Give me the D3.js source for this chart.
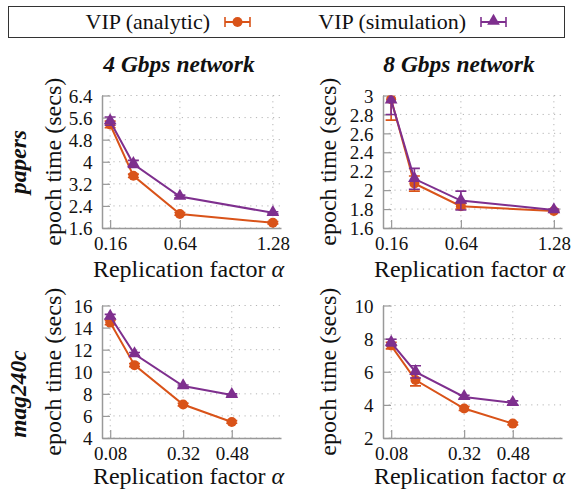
<!DOCTYPE html>
<html lang="en">
<head>
<meta charset="UTF-8">
<title>VIP epoch time</title>
<script src="https://d3js.org/d3.v7.min.js"></script>
<style>
  body { margin: 0; background: #fff; }
  svg text { font-family: "Liberation Serif", "Times New Roman", serif; fill: #111; }
</style>
</head>
<body>
<div id="chart"></div>
<script>
// Replication factors (x) for each dataset
var xPapers = [0.16, 0.32, 0.64, 1.28];
var xMag = [0.08, 0.16, 0.32, 0.48];

// papers, 4 Gbps
var papers4Analytic = [5.35, 3.49, 2.11, 1.79];
var papers4AnalyticErr = [0.12, 0.06, 0.05, 0.04];
var papers4Sim = [5.47, 3.92, 2.74, 2.15];
var papers4SimErr = [0.15, 0.13, 0.05, 0.04];

// papers, 8 Gbps
var papers8Analytic = [2.96, 2.07, 1.83, 1.78];
var papers8AnalyticErr = [0.22, 0.08, 0.03, 0.01];
var papers8Sim = [2.95, 2.12, 1.89, 1.79];
var papers8SimErr = [0.15, 0.11, 0.1, 0.01];

// mag240c, 4 Gbps
var mag4Analytic = [14.45, 10.6, 7.03, 5.45];
var mag4AnalyticErr = [0.2, 0.15, 0.12, 0.12];
var mag4Sim = [15.0, 11.6, 8.7, 7.9];
var mag4SimErr = [0.2, 0.15, 0.1, 0.1];

// mag240c, 8 Gbps
var mag8Analytic = [7.58, 5.5, 3.78, 2.87];
var mag8AnalyticErr = [0.2, 0.35, 0.12, 0.08];
var mag8Sim = [7.76, 5.99, 4.48, 4.12];
var mag8SimErr = [0.2, 0.37, 0.1, 0.12];

// tick values
var yTicksPapers4 = [1.6, 2.4, 3.2, 4, 4.8, 5.6, 6.4];
var yTicksPapers8 = [1.6, 1.8, 2, 2.2, 2.4, 2.6, 2.8, 3];
var yTicksMag4 = [4, 6, 8, 10, 12, 14, 16];
var yTicksMag8 = [2, 4, 6, 8, 10];
var xTicksPapers = [0.16, 0.64, 1.28];
var xTicksMag = [0.08, 0.32, 0.48];

var seriesNames = ["VIP (analytic)", "VIP (simulation)"];
var colTitles = ["4 Gbps network", "8 Gbps network"];
var rowTitles = ["papers", "mag240c"];

var orange = "#d95319", purple = "#7e2f8e";

var width = 571, height = 489;
var svg = d3.select("#chart").append("svg")
    .attr("width", width).attr("height", height);

// layout of the 2x2 grid
var colX = [[102, 281], [383, 562]];
var rowY = [[95.5, 228], [305.5, 438]];
var xDomains = [[0.104, 1.336], [0.053, 0.642]];

var panels = [
  { r: 0, c: 0, x: xPapers, xTicks: xTicksPapers, yTicks: yTicksPapers4,
    a: papers4Analytic, ae: papers4AnalyticErr, s: papers4Sim, se: papers4SimErr },
  { r: 0, c: 1, x: xPapers, xTicks: xTicksPapers, yTicks: yTicksPapers8,
    a: papers8Analytic, ae: papers8AnalyticErr, s: papers8Sim, se: papers8SimErr },
  { r: 1, c: 0, x: xMag, xTicks: xTicksMag, yTicks: yTicksMag4,
    a: mag4Analytic, ae: mag4AnalyticErr, s: mag4Sim, se: mag4SimErr },
  { r: 1, c: 1, x: xMag, xTicks: xTicksMag, yTicks: yTicksMag8,
    a: mag8Analytic, ae: mag8AnalyticErr, s: mag8Sim, se: mag8SimErr }
];

var fmt = d3.format("~g");
var tri = d3.symbol().type(d3.symbolTriangle).size(70);

panels.forEach(function (p, i) {
  var xr = colX[p.c], yr = rowY[p.r];
  var yDom = d3.extent(p.yTicks);
  var x = d3.scaleLinear().domain(xDomains[p.r]).range(xr);
  var y = d3.scaleLinear().domain(yDom).range([yr[1], yr[0]]);
  var g = svg.append("g");

  svg.append("clipPath").attr("id", "clip" + i)
    .append("rect").attr("x", xr[0]).attr("y", yr[0])
    .attr("width", xr[1] - xr[0]).attr("height", yr[1] - yr[0]);

  // dotted grid
  g.selectAll(".gy").data(p.yTicks).enter().append("line")
    .attr("x1", xr[0]).attr("x2", xr[1])
    .attr("y1", d => y(d)).attr("y2", d => y(d))
    .attr("stroke", "#b5b5b5").attr("stroke-width", 1)
    .attr("stroke-dasharray", "1.2,4.5");
  g.selectAll(".gx").data(p.xTicks).enter().append("line")
    .attr("x1", d => x(d)).attr("x2", d => x(d))
    .attr("y1", yr[0]).attr("y2", yr[1])
    .attr("stroke", "#b5b5b5").attr("stroke-width", 1)
    .attr("stroke-dasharray", "1.2,4.5");

  // axes with inward ticks
  var yAxis = d3.axisLeft(y).tickValues(p.yTicks).tickFormat(fmt)
    .tickSizeInner(-8).tickSizeOuter(0).tickPadding(9.5);
  var xAxis = d3.axisBottom(x).tickValues(p.xTicks).tickFormat(fmt)
    .tickSizeInner(-8).tickSizeOuter(0).tickPadding(8.5);

  var ya = g.append("g").attr("transform", "translate(" + xr[0] + ",0)").call(yAxis);
  var xa = g.append("g").attr("transform", "translate(0," + yr[1] + ")").call(xAxis);
  [ya, xa].forEach(function (ax) {
    ax.select(".domain").attr("stroke", "#999").attr("stroke-width", 1.5);
    ax.selectAll(".tick line").attr("stroke", "#999").attr("stroke-width", 1.2);
    ax.selectAll(".tick text").style("font-size", "19px")
      .style("font-family", "Liberation Serif").attr("fill", "#111");
  });
  ya.selectAll(".tick text").attr("dy", "0.35em");

  var plot = g.append("g").attr("clip-path", "url(#clip" + i + ")");

  function drawSeries(vals, errs, color, marker) {
    var pts = p.x.map((xv, k) => ({ x: xv, y: vals[k], e: errs[k] }));
    plot.append("path").datum(pts)
      .attr("fill", "none").attr("stroke", color).attr("stroke-width", 2)
      .attr("d", d3.line().x(d => x(d.x)).y(d => y(d.y)));
    var eb = plot.selectAll(null).data(pts).enter().append("g")
      .attr("stroke", color).attr("stroke-width", 1.6);
    eb.append("line").attr("x1", d => x(d.x)).attr("x2", d => x(d.x))
      .attr("y1", d => y(d.y - d.e)).attr("y2", d => y(d.y + d.e));
    eb.append("line").attr("x1", d => x(d.x) - 5.5).attr("x2", d => x(d.x) + 5.5)
      .attr("y1", d => y(d.y - d.e)).attr("y2", d => y(d.y - d.e));
    eb.append("line").attr("x1", d => x(d.x) - 5.5).attr("x2", d => x(d.x) + 5.5)
      .attr("y1", d => y(d.y + d.e)).attr("y2", d => y(d.y + d.e));
    if (marker === "circle") {
      plot.selectAll(null).data(pts).enter().append("circle")
        .attr("cx", d => x(d.x)).attr("cy", d => y(d.y)).attr("r", 5)
        .attr("fill", color);
    } else {
      plot.selectAll(null).data(pts).enter().append("path")
        .attr("d", tri)
        .attr("transform", d => "translate(" + x(d.x) + "," + (y(d.y) - 0.5) + ")")
        .attr("fill", color);
    }
  }
  drawSeries(p.a, p.ae, orange, "circle");
  drawSeries(p.s, p.se, purple, "triangle");

  // y label
  var ylx = p.c === 0 ? 53 : 328;
  svg.append("text")
    .attr("transform", "translate(" + ylx + "," + ((yr[0] + yr[1]) / 2) + ") rotate(-90)")
    .attr("text-anchor", "middle").attr("dy", "0.35em")
    .style("font-size", "24px").text("epoch time (secs)");

  // x label
  svg.append("text")
    .attr("x", (xr[0] + xr[1]) / 2 - 3).attr("y", p.r === 0 ? 277 : 484)
    .attr("text-anchor", "middle").style("font-size", "24px")
    .text("Replication factor ")
    .append("tspan").style("font-style", "italic").text("α");
});

// column titles
colTitles.forEach(function (t, c) {
  svg.append("text").attr("x", c === 0 ? 179 : 459).attr("y", 72)
    .attr("text-anchor", "middle")
    .style("font-size", "23.5px").style("font-weight", "bold").style("font-style", "italic")
    .text(t);
});

// row titles
rowTitles.forEach(function (t, r) {
  svg.append("text")
    .attr("transform", "translate(18," + (r === 0 ? 162 : 394) + ") rotate(-90)")
    .attr("text-anchor", "middle").attr("dy", "0.35em")
    .style("font-size", "23.5px").style("font-weight", "bold").style("font-style", "italic")
    .text(t);
});

// legend
var leg = svg.append("g");
leg.append("rect").attr("x", 8.5).attr("y", 6.5).attr("width", 556).attr("height", 31)
  .attr("fill", "#fff").attr("stroke", "#333").attr("stroke-width", 1);
var legX = [210, 466];
seriesNames.forEach(function (name, k) {
  var color = k === 0 ? orange : purple;
  leg.append("text").attr("x", legX[k]).attr("y", 29)
    .attr("text-anchor", "end").style("font-size", "22px").text(name);
  var mx = legX[k] + 15, my = 22;
  var lg = leg.append("g").attr("stroke", color).attr("stroke-width", 1.6);
  lg.append("line").attr("x1", mx).attr("x2", mx + 25).attr("y1", my).attr("y2", my).attr("stroke-width", 2);
  lg.append("line").attr("x1", mx).attr("x2", mx).attr("y1", my - 5).attr("y2", my + 5);
  lg.append("line").attr("x1", mx + 25).attr("x2", mx + 25).attr("y1", my - 5).attr("y2", my + 5);
  if (k === 0) {
    leg.append("circle").attr("cx", mx + 12.5).attr("cy", my).attr("r", 5).attr("fill", color);
  } else {
    leg.append("path").attr("d", tri).attr("transform", "translate(" + (mx + 12.5) + "," + (my - 1) + ")")
      .attr("fill", color);
  }
});
</script>
</body>
</html>
